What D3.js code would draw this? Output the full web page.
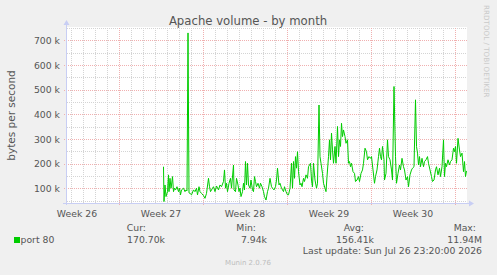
<!DOCTYPE html>
<html lang="en">
<head>
<meta charset="UTF-8">
<title>Apache volume - by month</title>
<script src="https://d3js.org/d3.v7.min.js"></script>
<style>
    html, body {
        margin: 0;
        padding: 0;
        background: #f0f0f0;
    }
    svg text {
        font-family: 'DejaVu Sans', sans-serif;
    }
</style>
</head>
<body>
<div id="chart"></div>
<script>

// samples: [hours after Jul 1 2026 00:00 UTC, bytes per second in thousands]
var samples = [
    [17,188],[18,47],[20,114],[22,67],[25,87],[27,155],[28,87],[30,141],[32,101],[33,114],
    [35,148],[37,87],[39,101],[41,94],[44,107],[47,87],[49,101],[51,74],[53,94],[57,101],
    [60,87],[62,94],[64,90],[66,730],[68,82],[70,80],[73,74],[77,94],[80,87],[83,101],
    [85,74],[88,107],[90,87],[93,80],[97,71],[100,60],[103,80],[107,141],[109,107],[111,87],
    [115,101],[117,107],[120,87],[123,110],[127,94],[130,114],[133,107],[137,128],[139,175],[141,101],
    [143,121],[145,87],[148,121],[151,141],[153,101],[157,195],
    [158,94],[161,87],[163,141],[166,114],[168,87],[170,101],[172,67],[175,87],[177,121],[179,94],
    [181,209],[183,114],[185,202],[187,114],[190,101],[192,134],[195,94],[197,87],[199,148],[201,128],
    [203,107],[206,121],[209,101],[211,121],[214,107],[217,87],[219,67],[222,53],[225,87],[227,101],
    [230,141],[233,107],[235,101],[238,94],[241,107],[243,134],[245,182],[248,114],[250,121],[253,101],
    [257,87],[259,107],[262,87],[265,74],[267,74],[270,101],[273,202],[275,101],[277,209],[279,141],
    [281,229],[283,182],[285,249],[287,168],[290,114],[292,121],[294,107],[297,141],[299,128],[302,155],
    [305,141],[307,188],
    [311,202],[313,134],[315,107],[317,202],[320,134],[323,101],[325,121],[328,438],[330,229],[332,202],
    [335,161],[337,121],[340,101],[342,87],[344,148],[347,229],[349,297],[351,216],[353,324],[355,256],
    [357,202],[360,270],[362,202],[365,351],[367,229],[369,297],[371,270],[373,364],[375,310],[377,337],
    [380,310],[382,283],[385,297],[387,202],[389,209],[391,188],[393,202],[396,168],[399,161],[401,128],
    [404,134],[407,148],[409,128],[412,161],[415,175],[417,202],[420,263],[423,249],[425,216],[428,229],
    [431,222],[433,229],[436,175],[439,121],[441,148],[444,175],[447,229],[449,263],[451,229],[453,216],
    [455,270],[458,216],
    [459,134],[462,161],[465,297],[467,229],[470,216],[473,175],[475,134],[478,513],[481,229],[483,121],
    [486,161],[489,195],[491,175],[494,222],[497,188],[499,175],[502,134],[505,148],[507,107],[510,155],
    [513,175],[515,182],[518,188],[521,459],[523,270],[525,243],[527,195],[529,229],[531,188],[534,222],
    [537,188],[539,209],[542,216],[545,229],[547,202],[550,175],[553,148],[555,128],[558,134],[561,175],
    [563,188],[566,155],[569,182],[571,148],[574,188],[577,297],[579,148],[581,202],[583,188],[586,216],
    [589,195],[591,209],[594,216],[597,263],[599,249],[601,270],[603,202],[606,303],[609,256],[611,229],
    [614,243],[617,168],[619,209],[621,148],[623,171]
];

var yTicks = [100, 200, 300, 400, 500, 600, 700];
var weekLabels = ["Week 26", "Week 27", "Week 28", "Week 29", "Week 30"];
var legendName = "port 80";
var legendHeads = ["Cur:", "Min:", "Avg:", "Max:"];
var legendValues = ["170.70k", "7.94k", "156.41k", "11.94M"];
var lastUpdate = "Last update: Sun Jul 26 23:20:00 2026";

var W = 497, H = 275;
var plot = {left: 67, right: 467, top: 28, bottom: 203};

var svg = d3.select('#chart')
    .append('svg')
    .attr('width', W)
    .attr('height', H);

svg.append('rect')
    .attr('width', W)
    .attr('height', H)
    .attr('fill', '#f0f0f0');

var t0 = Date.UTC(2026, 6, 1);
var start = new Date(t0 - 176 * 3600e3),
    end = new Date(Date.UTC(2026, 6, 27));

var x = d3.scaleUtc()
    .domain([start, end])
    .range([plot.left, plot.right]);

var y = d3.scaleLinear()
    .domain([41, 750])
    .range([plot.bottom, plot.top]);

svg.append('rect')
    .attr('x', plot.left)
    .attr('y', plot.top - 1)
    .attr('width', plot.right - plot.left)
    .attr('height', plot.bottom - plot.top + 1)
    .attr('fill', '#ffffff');

var grid = svg.append('g')
    .attr('shape-rendering', 'crispEdges')
    .attr('stroke-dasharray', '1,1');

// minor grid: every day / every 50k
grid.selectAll('.vminor')
    .data(d3.utcDay.range(d3.utcDay.ceil(start), end))
    .enter().append('line')
    .attr('x1', function(d) { return Math.round(x(d)) + 0.5; })
    .attr('x2', function(d) { return Math.round(x(d)) + 0.5; })
    .attr('y1', plot.top)
    .attr('y2', plot.bottom)
    .attr('stroke', '#d4d4d4');

grid.selectAll('.hminor')
    .data(d3.range(50, 751, 100))
    .enter().append('line')
    .attr('x1', plot.left)
    .attr('x2', plot.right)
    .attr('y1', function(d) { return Math.round(y(d)) + 0.5; })
    .attr('y2', function(d) { return Math.round(y(d)) + 0.5; })
    .attr('stroke', '#d4d4d4');

// major grid: every week / every 100k
grid.selectAll('.vmajor')
    .data(d3.utcSunday.range(start, end))
    .enter().append('line')
    .attr('x1', function(d) { return Math.round(x(d)) + 0.5; })
    .attr('x2', function(d) { return Math.round(x(d)) + 0.5; })
    .attr('y1', plot.top)
    .attr('y2', plot.bottom + 3)
    .attr('stroke', '#f0b0b0');

grid.selectAll('.hmajor')
    .data(yTicks)
    .enter().append('line')
    .attr('x1', plot.left - 3)
    .attr('x2', plot.right)
    .attr('y1', function(d) { return Math.round(y(d)) + 0.5; })
    .attr('y2', function(d) { return Math.round(y(d)) + 0.5; })
    .attr('stroke', '#f0b0b0');

// axes
var axisColor = '#c8cef4';
svg.append('line')
    .attr('x1', plot.left - 0.5).attr('x2', plot.left - 0.5)
    .attr('y1', plot.bottom + 2).attr('y2', plot.top - 5)
    .attr('stroke', axisColor);
svg.append('path')
    .attr('d', 'M' + (plot.left - 3.5) + ',' + (plot.top - 3) + 'L' + (plot.left - 0.5) + ',' + (plot.top - 8) + 'L' + (plot.left + 2.5) + ',' + (plot.top - 3) + 'Z')
    .attr('fill', axisColor);
svg.append('line')
    .attr('x1', plot.left - 4).attr('x2', plot.right + 3)
    .attr('y1', plot.bottom + 0.5).attr('y2', plot.bottom + 0.5)
    .attr('stroke', axisColor);
svg.append('path')
    .attr('d', 'M' + (plot.right + 2) + ',' + (plot.bottom - 2.5) + 'L' + (plot.right + 7) + ',' + (plot.bottom + 0.5) + 'L' + (plot.right + 2) + ',' + (plot.bottom + 3.5) + 'Z')
    .attr('fill', axisColor);

// data line
var line = d3.line()
    .x(function(d) { return x(new Date(t0 + d[0] * 3600e3)); })
    .y(function(d) { return y(d[1]); });

svg.append('path')
    .datum(samples)
    .attr('d', line)
    .attr('fill', 'none')
    .attr('stroke', '#00cc00')
    .attr('stroke-width', 1);

// labels
var textColor = '#555555';

svg.append('text')
    .attr('x', 248)
    .attr('y', 25)
    .attr('text-anchor', 'middle')
    .attr('font-size', '11.7px')
    .attr('fill', textColor)
    .text('Apache volume - by month');

svg.append('text')
    .attr('transform', 'translate(15,' + ((plot.top + plot.bottom) / 2) + ') rotate(-90)')
    .attr('text-anchor', 'middle')
    .attr('font-size', '10.5px')
    .attr('fill', textColor)
    .text('bytes per second');

svg.selectAll('.ylab')
    .data(yTicks)
    .enter().append('text')
    .attr('x', 60)
    .attr('y', function(d) { return y(d) + 3.5; })
    .attr('text-anchor', 'end')
    .attr('font-size', '9.3px')
    .attr('fill', textColor)
    .text(function(d) { return d + ' k'; });

var weekMids = d3.utcWednesday.range(start, end).map(function(d) { return d3.utcHour.offset(d, 12); });
svg.selectAll('.xlab')
    .data(weekLabels)
    .enter().append('text')
    .attr('x', function(d, i) { return x(weekMids[i]); })
    .attr('y', 216.5)
    .attr('text-anchor', 'middle')
    .attr('font-size', '9.3px')
    .attr('fill', textColor)
    .text(function(d) { return d; });

// legend
svg.append('rect')
    .attr('x', 14).attr('y', 237)
    .attr('width', 6).attr('height', 6)
    .attr('fill', '#00cc00');
svg.append('text')
    .attr('x', 20.5).attr('y', 242.5)
    .attr('font-size', '9.3px')
    .attr('fill', textColor)
    .text(legendName);

var headRight = [146, 256, 364, 476];
var valueRight = [165, 267, 374, 482];

svg.selectAll('.lhead')
    .data(legendHeads)
    .enter().append('text')
    .attr('x', function(d, i) { return headRight[i]; })
    .attr('y', 230.5)
    .attr('text-anchor', 'end')
    .attr('font-size', '9.3px')
    .attr('fill', textColor)
    .text(function(d) { return d; });

svg.selectAll('.lval')
    .data(legendValues)
    .enter().append('text')
    .attr('x', function(d, i) { return valueRight[i]; })
    .attr('y', 242.5)
    .attr('text-anchor', 'end')
    .attr('font-size', '9.3px')
    .attr('fill', textColor)
    .text(function(d) { return d; });

svg.append('text')
    .attr('x', 482).attr('y', 254)
    .attr('text-anchor', 'end')
    .attr('font-size', '9.3px')
    .attr('fill', textColor)
    .text(lastUpdate);

svg.append('text')
    .attr('x', 248).attr('y', 265)
    .attr('text-anchor', 'middle')
    .attr('font-size', '7px')
    .attr('fill', '#bdbdbd')
    .text('Munin 2.0.76');

svg.append('text')
    .attr('transform', 'translate(484,5) rotate(90)')
    .attr('font-size', '7.2px')
    .attr('fill', '#cacaca')
    .text('RRDTOOL / TOBI OETIKER');

</script>
</body>
</html>
